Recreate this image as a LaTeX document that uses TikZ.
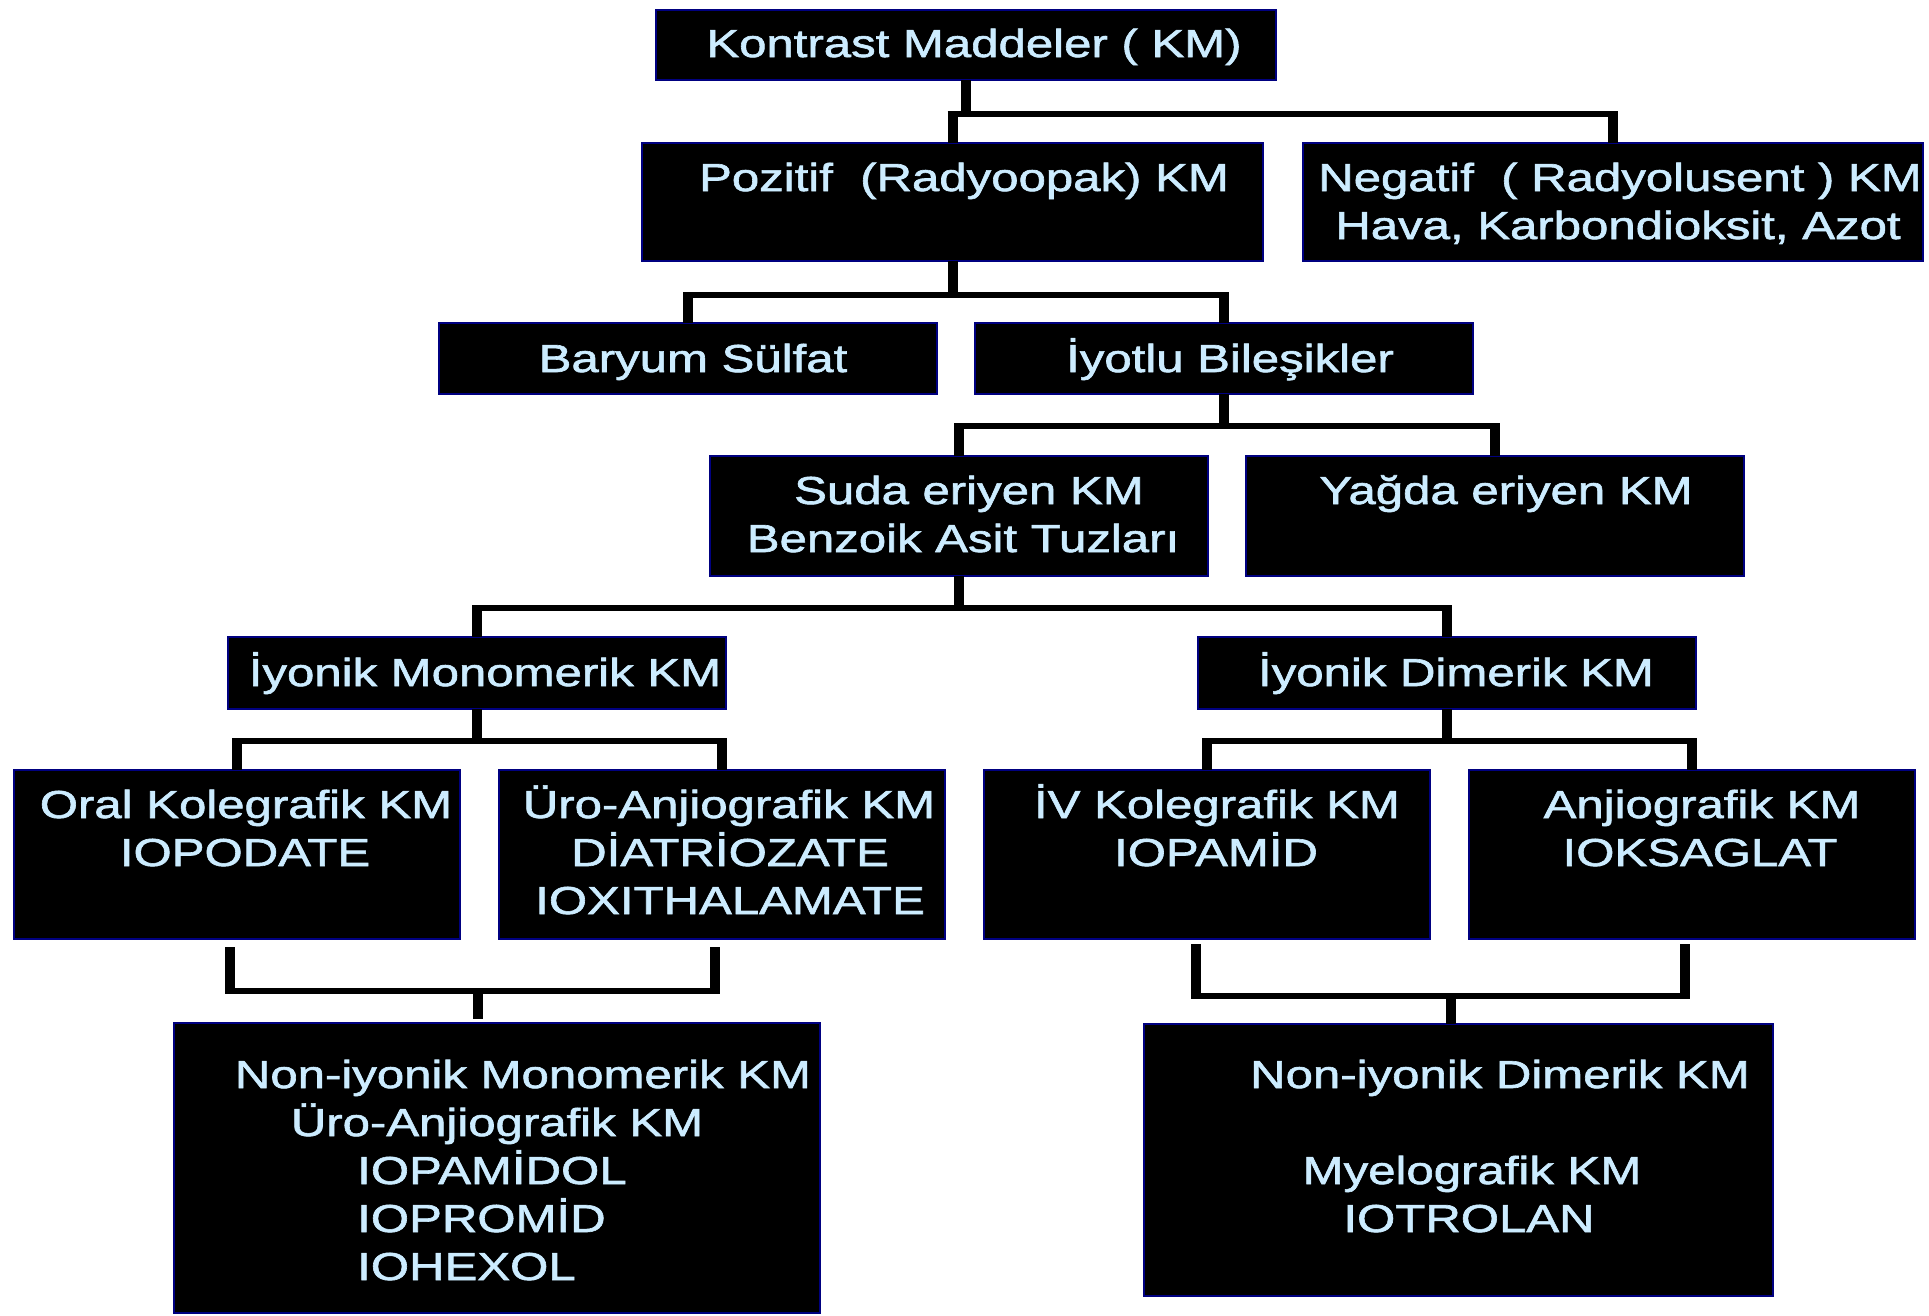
\documentclass[tikz,border=0pt]{standalone}
\usepackage{fontspec}
\newfontfamily\kmfont[FakeStretch=1.26,FakeBold=1.6]{Liberation Sans}
\definecolor{kmtext}{RGB}{204,236,255}
\definecolor{kmedge}{RGB}{0,0,128}
\begin{document}
\begin{tikzpicture}[x=1pt,y=-1pt,
  box/.style={draw=kmedge,line width=1.6pt,fill=black,inner sep=0pt,outer sep=0pt,anchor=north west},
  lbl/.style={text=kmtext,font=\kmfont\fontsize{39}{48}\selectfont,inner sep=0pt,anchor=base},
  lblw/.style={lbl,anchor=base west},
  vline/.style={draw=black,line width=10pt},
  hline/.style={draw=black,line width=6pt}]
\useasboundingbox[fill=white] (0,0) rectangle (1929,1315);

% boxes
\node[box,minimum width=620pt,minimum height=70pt]  (top)   at (656,10)   {};
\node[box,minimum width=621pt,minimum height=118pt] (poz)   at (642,143)  {};
\node[box,minimum width=620pt,minimum height=118pt] (neg)   at (1303,143) {};
\node[box,minimum width=498pt,minimum height=71pt]  (bar)   at (439,323)  {};
\node[box,minimum width=498pt,minimum height=71pt]  (iyo)   at (975,323)  {};
\node[box,minimum width=498pt,minimum height=120pt] (suda)  at (710,456)  {};
\node[box,minimum width=498pt,minimum height=120pt] (yag)   at (1246,456) {};
\node[box,minimum width=498pt,minimum height=72pt]  (imono) at (228,637)  {};
\node[box,minimum width=498pt,minimum height=72pt]  (idi)   at (1198,637) {};
\node[box,minimum width=446pt,minimum height=169pt] (oral)  at (14,770)   {};
\node[box,minimum width=446pt,minimum height=169pt] (uro)   at (499,770)  {};
\node[box,minimum width=446pt,minimum height=169pt] (iv)    at (984,770)  {};
\node[box,minimum width=446pt,minimum height=169pt] (anj)   at (1469,770) {};
\node[box,minimum width=646pt,minimum height=290pt] (nmono) at (174,1023) {};
\node[box,minimum width=629pt,minimum height=272pt] (ndi)   at (1144,1024) {};

% junction levels
\coordinate (h1) at (0,114);
\coordinate (h2) at (0,295);
\coordinate (h3) at (0,426);
\coordinate (h4) at (0,608);
\coordinate (h5) at (0,741);

% level 1
\draw[vline] (top.south) -- ([yshift=-3pt]top.south |- h1);
\draw[hline] ([xshift=-5pt]poz.north |- h1) -- ([xshift=5pt]neg.north |- h1);
\draw[vline] ([yshift=3pt]poz.north |- h1) -- (poz.north);
\draw[vline] ([yshift=3pt]neg.north |- h1) -- (neg.north);
% level 2
\draw[vline] (poz.south) -- ([yshift=-3pt]poz.south |- h2);
\draw[hline] ([xshift=-5pt]bar.north |- h2) -- ([xshift=5pt]iyo.north |- h2);
\draw[vline] ([yshift=3pt]bar.north |- h2) -- (bar.north);
\draw[vline] ([yshift=3pt]iyo.north |- h2) -- (iyo.north);
% level 3
\draw[vline] (iyo.south) -- ([yshift=-3pt]iyo.south |- h3);
\draw[hline] ([xshift=-5pt]suda.north |- h3) -- ([xshift=5pt]yag.north |- h3);
\draw[vline] ([yshift=3pt]suda.north |- h3) -- (suda.north);
\draw[vline] ([yshift=3pt]yag.north |- h3) -- (yag.north);
% level 4
\draw[vline] (suda.south) -- ([yshift=-3pt]suda.south |- h4);
\draw[hline] ([xshift=-5pt]imono.north |- h4) -- ([xshift=5pt]idi.north |- h4);
\draw[vline] ([yshift=3pt]imono.north |- h4) -- (imono.north);
\draw[vline] ([yshift=3pt]idi.north |- h4) -- (idi.north);
% level 5 left
\draw[vline] (imono.south) -- ([yshift=-3pt]imono.south |- h5);
\draw[hline] ([xshift=-5pt]oral.north |- h5) -- ([xshift=5pt]uro.north |- h5);
\draw[vline] ([yshift=3pt]oral.north |- h5) -- (oral.north);
\draw[vline] ([yshift=3pt]uro.north |- h5) -- (uro.north);
% level 5 right
\draw[vline] (idi.south) -- ([yshift=-3pt]idi.south |- h5);
\draw[hline] ([xshift=-5pt]iv.north |- h5) -- ([xshift=5pt]anj.north |- h5);
\draw[vline] ([yshift=3pt]iv.north |- h5) -- (iv.north);
\draw[vline] ([yshift=3pt]anj.north |- h5) -- (anj.north);

% bottom brackets
\coordinate (bla) at (230,947);
\coordinate (blb) at (715,947);
\coordinate (blh) at (0,991);
\coordinate (blc) at (478,1019);
\draw[vline] (bla) -- ([yshift=-3pt]bla |- blh);
\draw[vline] (blb) -- ([yshift=-3pt]blb |- blh);
\draw[hline] ([xshift=-5pt]bla |- blh) -- ([xshift=5pt]blb |- blh);
\draw[vline] ([yshift=3pt]blc |- blh) -- (blc);

\coordinate (bra) at (1196,944);
\coordinate (brb) at (1685,944);
\coordinate (brh) at (0,996);
\coordinate (brc) at (1451,0);
\draw[vline] (bra) -- ([yshift=-3pt]bra |- brh);
\draw[vline] (brb) -- ([yshift=-3pt]brb |- brh);
\draw[hline] ([xshift=-5pt]bra |- brh) -- ([xshift=5pt]brb |- brh);
\draw[vline] ([yshift=3pt]brc |- brh) -- (brc |- ndi.north);

% labels
\node[lbl] (t1) at (974,57) {Kontrast Maddeler ( KM)};
\node[lbl] (p1) at (964,191) {Pozitif\ \ (Radyoopak) KM};
\node[lbl] (n1) at (1620,191) {Negatif\ \ ( Radyolusent ) KM};
\node[lbl] (n2) at (1618,239) {Hava, Karbondioksit, Azot};
\node[lbl] (b1) at (693,372) {Baryum Sülfat};
\node[lbl] (i1) at (1230,372) {İyotlu Bileşikler};
\node[lbl] (s1) at (969,504) {Suda eriyen KM};
\node[lbl] (s2) at (963,552) {Benzoik Asit Tuzları};
\node[lbl] (y1) at (1506,504) {Yağda eriyen KM};
\node[lbl] (m1) at (485,686) {İyonik Monomerik KM};
\node[lbl] (d1) at (1456,686) {İyonik Dimerik KM};
\node[lbl] (o1) at (246,818) {Oral Kolegrafik KM};
\node[lbl] (o2) at (245,866) {IOPODATE};
\node[lbl] (u1) at (729,818) {Üro-Anjiografik KM};
\node[lbl] (u2) at (730,866) {DİATRİOZATE};
\node[lbl] (u3) at (730,914) {IOXITHALAMATE};
\node[lbl] (v1) at (1217,818) {İV Kolegrafik KM};
\node[lbl] (v2) at (1216,866) {IOPAMİD};
\node[lbl] (a1) at (1702,818) {Anjiografik KM};
\node[lbl] (a2) at (1700,866) {IOKSAGLAT};
\node[lbl] (nm1) at (523,1088) {Non-iyonik Monomerik KM};
\node[lbl] (nm2) at (497,1136) {Üro-Anjiografik KM};
\node[lblw] (nm3) at (357,1184) {IOPAMİDOL};
\node[lblw] (nm4) at (357,1232) {IOPROMİD};
\node[lblw] (nm5) at (357,1280) {IOHEXOL};
\node[lbl] (nd1) at (1500,1088) {Non-iyonik Dimerik KM};
\node[lbl] (nd3) at (1472,1184) {Myelografik KM};
\node[lbl] (nd4) at (1469,1232) {IOTROLAN};
\end{tikzpicture}
\end{document}
